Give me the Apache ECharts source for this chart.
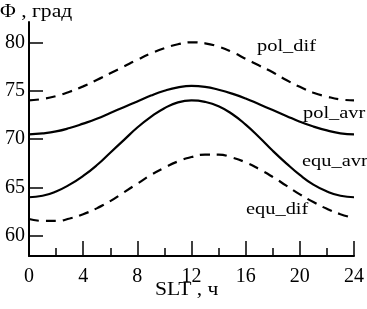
<!DOCTYPE html>
<html>
<head>
<meta charset="utf-8">
<script src="https://cdn.jsdelivr.net/npm/echarts@6/dist/echarts.min.js"></script>
<style>
html, body { margin: 0; padding: 0; background: #fff; }
#main { width: 367px; height: 309px; }
</style>
</head>
<body>
<div id="main"></div>
<script>
// hours SLT, 0..24
var hours = [0, 1, 2, 3, 4, 5, 6, 7, 8, 9, 10, 11, 12, 13, 14, 15, 16, 17, 18, 19, 20, 21, 22, 23, 24];
// values, degrees
var polDif = [74.0, 74.15, 74.45, 74.9, 75.45, 76.1, 76.8, 77.5, 78.2, 78.85, 79.4, 79.8, 80.0,
              79.9, 79.55, 79.0, 78.3, 77.6, 76.9, 76.1, 75.4, 74.8, 74.4, 74.1, 74.0];
var polAvr = [70.5, 70.6, 70.8, 71.15, 71.6, 72.1, 72.7, 73.3, 73.9, 74.5, 75.0, 75.35, 75.5,
              75.4, 75.1, 74.7, 74.2, 73.6, 73.0, 72.4, 71.8, 71.3, 70.9, 70.6, 70.5];
var equAvr = [64.0, 64.15, 64.6, 65.3, 66.2, 67.3, 68.6, 69.9, 71.2, 72.3, 73.2, 73.8, 74.0,
              73.85, 73.4, 72.6, 71.5, 70.2, 68.8, 67.5, 66.3, 65.3, 64.6, 64.15, 64.0];
var equDif = [61.75, 61.55, 61.55, 61.8, 62.25, 62.85, 63.6, 64.5, 65.4, 66.3, 67.05, 67.7, 68.15,
              68.4, 68.4, 68.1, 67.6, 66.9, 66.1, 65.2, 64.3, 63.5, 62.8, 62.25, 61.85];
var yTicks = [60, 65, 70, 75, 80];

var FONT = '"Liberation Serif", "Times New Roman", serif';

function pairs(vals) {
    var out = [];
    for (var i = 0; i < hours.length; ++i) {
        out.push([hours[i], vals[i]]);
    }
    return out;
}

function line(name, vals, dashed) {
    return {
        name: name,
        type: 'line',
        smooth: true,
        symbol: 'none',
        lineStyle: {
            color: '#000',
            width: 2.2,
            type: dashed ? [10, 7] : 'solid'
        },
        data: pairs(vals)
    };
}

function label(text, x, y, size) {
    return {
        type: 'text',
        x: x,
        y: y,
        scaleX: 1.2,
        style: {
            text: text,
            fontFamily: FONT,
            fontSize: size || 17,
            fill: '#000',
            textAlign: 'left',
            textVerticalAlign: 'middle'
        }
    };
}

var chart = echarts.init(document.getElementById('main'));
chart.setOption({
    animation: false,
    backgroundColor: '#fff',
    grid: { left: 29, right: 11, top: 22, bottom: 53 },
    xAxis: {
        type: 'value',
        min: 0,
        max: 24,
        interval: 4,
        axisLine: { lineStyle: { color: '#000', width: 2 } },
        axisTick: { inside: true, length: 15, lineStyle: { color: '#000', width: 1.5 } },
        minorTick: { show: true, splitNumber: 2, length: 8, lineStyle: { color: '#000', width: 1.5 } },
        splitLine: { show: false },
        axisLabel: { margin: 11, color: '#000', fontFamily: FONT, fontSize: 20 }
    },
    yAxis: {
        type: 'value',
        min: 57.93,
        max: 82.1,
        axisLine: { show: true, lineStyle: { color: '#000', width: 2 } },
        axisTick: { show: true, inside: true, length: 14, customValues: yTicks, lineStyle: { color: '#000', width: 1.5 } },
        splitLine: { show: false },
        axisLabel: { margin: 4, color: '#000', fontFamily: FONT, fontSize: 20, customValues: yTicks }
    },
    series: [
        line('pol_dif', polDif, true),
        line('pol_avr', polAvr, false),
        line('equ_avr', equAvr, false),
        line('equ_dif', equDif, true)
    ],
    graphic: [
        label('Φ , град', 0, 12, 18),
        label('SLT , ч', 155, 290, 18),
        label('pol_dif', 257, 47),
        label('pol_avr', 303, 114),
        label('equ_avr', 302, 162),
        label('equ_dif', 246, 210)
    ]
});
</script>
</body>
</html>
